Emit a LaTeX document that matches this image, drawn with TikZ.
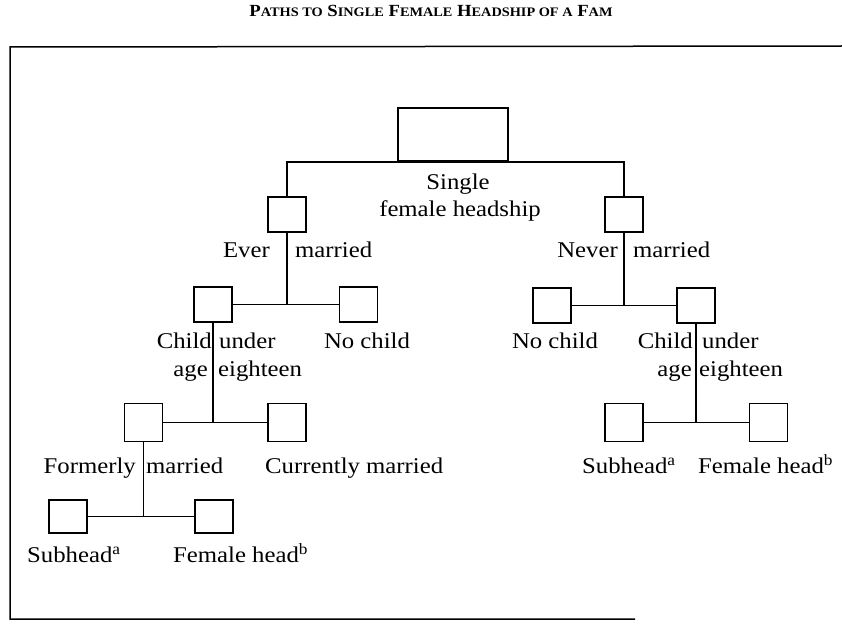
\documentclass[tikz,border=0pt]{standalone}
\usepackage{fontspec}
\setmainfont[FakeStretch=1.1]{Liberation Serif}
\newcommand\scap[2]{{\fontsize{17}{20}\selectfont #1}{\fontsize{13}{16}\selectfont #2}}
\begin{document}
\begin{tikzpicture}[x=1pt,y=-1pt,
  box/.style={draw, rectangle, line width=1.8pt, minimum width=38pt, minimum height=35pt, inner sep=0pt},
  lbl/.style={inner sep=0pt, font=\fontsize{22.5}{26}\selectfont},
  link/.style={line width=1.5pt}]
\useasboundingbox (0,0) rectangle (842,623);

% title and frame
\node[inner sep=0pt, anchor=base, font=\bfseries\fontsize{17}{20}\selectfont] (title) at (431,17)
  {\scap{P}{ATHS TO} \scap{S}{INGLE} \scap{F}{EMALE} \scap{H}{EADSHIP OF A} \scap{F}{AM}};
\draw[line width=1.5pt] (842,46) -- (10,47) -- (10,619) -- (635,619);

% boxes
\node[box, minimum width=110pt, minimum height=53pt] (root) at (453,134.5) {};
\node[box] (ever) at (287,214.5) {};
\node[box] (never) at (624,214.5) {};
\node[box] (everkid) at (213,304.5) {};
\node[box] (everno) at (358.5,304.5) {};
\node[box] (nevno) at (552,305.5) {};
\node[box] (neverkid) at (696,305.5) {};
\node[box, minimum height=38pt] (everform) at (143.5,422.5) {};
\node[box, minimum height=38pt] (evercur) at (287,422.5) {};
\node[box, minimum height=38pt] (kidsub) at (624,422.5) {};
\node[box, minimum height=38pt] (kidhead) at (768.5,422.5) {};
\node[box, minimum height=33pt] (formsub) at (68,516.5) {};
\node[box, minimum height=33pt] (formhead) at (214,516.5) {};

% connectors
\draw[link] (ever.north) |- (root.south) -| (never.north);
\draw[link] (ever.south) -- (ever.south |- everkid.east);
\draw[link] (everkid) -- (everno);
\draw[link] (never.south) -- (never.south |- nevno.east);
\draw[link] (nevno) -- (neverkid);
\draw[link] (everkid.south) -- (everkid.south |- everform.east);
\draw[link] (everform) -- (evercur);
\draw[link] (neverkid.south) -- (neverkid.south |- kidsub.east);
\draw[link] (kidsub) -- (kidhead);
\draw[link] (everform.south) -- (everform.south |- formsub.east);
\draw[link] (formsub) -- (formhead);

% labels
\node[lbl, anchor=base] (lsingle) at (458,189) {Single};
\node[lbl, anchor=base] (lheadship) at (460,216) {female headship};
\node[lbl, anchor=base east] (lever) at (270,257) {Ever};
\node[lbl, anchor=base west] (levermar) at (295,257) {married};
\node[lbl, anchor=base east] (lnever) at (618,257) {Never};
\node[lbl, anchor=base west] (lnevermar) at (633,257) {married};
\node[lbl, anchor=base east] (lchild) at (212,348) {Child};
\node[lbl, anchor=base west] (lunder) at (219,348) {under};
\node[lbl, anchor=base east] (lage) at (208,376) {age};
\node[lbl, anchor=base west] (leighteen) at (218,376) {eighteen};
\node[lbl, anchor=base] (leverno) at (367,348) {No child};
\node[lbl, anchor=base] (lnevno) at (555,348) {No child};
\node[lbl, anchor=base east] (lchild2) at (693,348) {Child};
\node[lbl, anchor=base west] (lunder2) at (702,348) {under};
\node[lbl, anchor=base east] (lage2) at (692,376) {age};
\node[lbl, anchor=base west] (leighteen2) at (699,376) {eighteen};
\node[lbl, anchor=base east] (lformer) at (136,473) {Formerly};
\node[lbl, anchor=base west] (lformmar) at (146,473) {married};
\node[lbl, anchor=base west] (lcurrent) at (265,473) {Currently married};
\node[lbl, anchor=base west] (lsub) at (27,562) {Subhead\textsuperscript{a}};
\node[lbl, anchor=base west] (lhead) at (173,562) {Female head\textsuperscript{b}};
\node[lbl, anchor=base west] (lsub2) at (582,473) {Subhead\textsuperscript{a}};
\node[lbl, anchor=base west] (lhead2) at (698,473) {Female head\textsuperscript{b}};
\end{tikzpicture}
\end{document}
